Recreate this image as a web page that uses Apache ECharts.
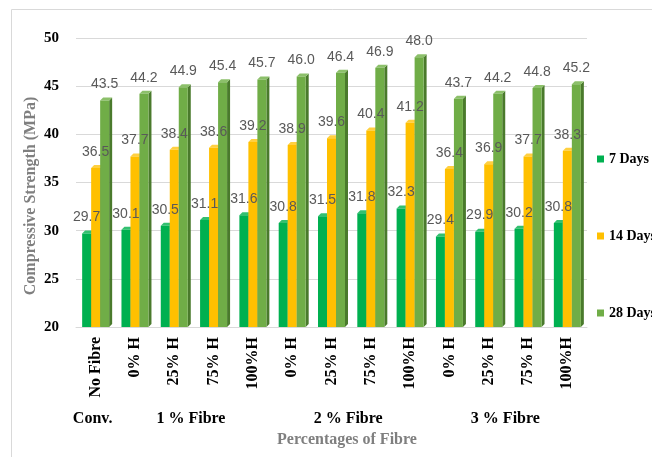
<!DOCTYPE html>
<html><head><meta charset="utf-8">
<script src="https://cdn.jsdelivr.net/npm/echarts@6/dist/echarts.min.js"></script>
<style>html,body{margin:0;padding:0;background:#fff}#c{width:652px;height:457px}</style>
</head><body><div id="c"></div>
<script>
const categories = ['No Fibre','0% H','25% H','75% H','100%H','0% H','25% H','75% H','100%H','0% H','25% H','75% H','100%H'];
const days7  = [29.7,30.1,30.5,31.1,31.6,30.8,31.5,31.8,32.3,29.4,29.9,30.2,30.8];
const days14 = [36.5,37.7,38.4,38.6,39.2,38.9,39.6,40.4,41.2,36.4,36.9,37.7,38.3];
const days28 = [43.5,44.2,44.9,45.4,45.7,46.0,46.4,46.9,48.0,43.7,44.2,44.8,45.2];
const seriesNames = ['7 Days','14 Days','28 Days'];
const groupLabels = ['Conv.','1 % Fibre','2 % Fibre','3 % Fibre'];
const groupSpans = [[0,0],[1,4],[5,8],[9,12]];

const colors = ['#00B050','#FFC000','#70AD47'];
const sideColors = ['#00803a','#bf9000','#4a7a2c'];
const topColors = ['#33c070','#ffd040','#8cc06a'];
const BW = 9, D = 3;
const serif = 'Liberation Serif';
const all = [days7, days14, days28];

const chart = echarts.init(document.getElementById('c'), null, {renderer:'canvas'});

function depthSeries(s){
  return {
    type:'custom', name:'depth'+s, z:1, silent:true,
    data: all[s].map((v,i)=>[i,v]),
    encode:{x:0,y:1},
    renderItem:function(params, api){
      const ci = api.value(0), v = api.value(1);
      const p = api.coord([ci, v]);
      const p0 = api.coord([ci, 20]);
      const x = p[0] - 1.5*BW + s*BW;
      return {type:'group', children:[
        {type:'polygon', shape:{points:[[x+BW,p[1]],[x+BW+D,p[1]-D],[x+BW+D,p0[1]-D],[x+BW,p0[1]]]}, style:{fill:sideColors[s]}},
        {type:'polygon', shape:{points:[[x,p[1]],[x+D,p[1]-D],[x+BW+D,p[1]-D],[x+BW,p[1]]]}, style:{fill:topColors[s]}}
      ]};
    }
  };
}

const barSeries = all.map((d,s)=>({
  type:'bar', name:seriesNames[s], data:d, barWidth:BW, barGap:'0%', z:2,
  itemStyle:{color:colors[s]},
  label:{show:true, position:'top', distance:9, color:'#595959', fontSize:14, fontFamily:'Liberation Sans',
    formatter:(p)=>p.value.toFixed(1)}
}));

chart.setOption({
  animation:false,
  grid:{left:76, top:38, width:511, height:289, containLabel:false},
  legend:{
    data:seriesNames, orient:'vertical', left:597, top:152, padding:0, itemWidth:7, itemHeight:7, itemGap:63, icon:'rect',
    textStyle:{fontFamily:serif, fontWeight:'bold', fontSize:14, color:'#000'}
  },
  xAxis:{
    type:'category', data:categories,
    axisLine:{lineStyle:{color:'#d9d9d9'}}, axisTick:{show:false},
    axisLabel:{rotate:90, interval:0, margin:10, fontFamily:serif, fontWeight:'bold', fontSize:16, color:'#000'}
  },
  yAxis:{
    type:'value', min:20, max:50, interval:5,
    axisLine:{show:false}, axisTick:{show:false},
    splitLine:{lineStyle:{color:'#d9d9d9'}},
    axisLabel:{margin:17, fontFamily:serif, fontWeight:'bold', fontSize:15, color:'#000'}
  },
  series:[depthSeries(0),depthSeries(1),depthSeries(2)].concat(barSeries)
});

const gfx = [
  {type:'rect', shape:{x:11.5,y:9.5,width:800,height:600}, style:{fill:'none', stroke:'#d9d9d9', lineWidth:1}, silent:true},
  {type:'text', x:31, y:196, rotation:Math.PI/2, style:{text:'Compressive Strength (MPa)', fontFamily:serif, fontWeight:'bold', fontSize:16, fill:'#7f7f7f', align:'center', verticalAlign:'middle'}},
  {type:'text', x:347, y:440, style:{text:'Percentages of Fibre', fontFamily:serif, fontWeight:'bold', fontSize:16, fill:'#7f7f7f', align:'center', verticalAlign:'middle'}}
];
groupSpans.forEach((sp,k)=>{
  const a = chart.convertToPixel({xAxisIndex:0}, sp[0]);
  const b = chart.convertToPixel({xAxisIndex:0}, sp[1]);
  gfx.push({type:'text', x:(a+b)/2 - 3, y:419, style:{text:groupLabels[k], fontFamily:serif, fontWeight:'bold', fontSize:16, fill:'#000', align:'center', verticalAlign:'middle'}});
});
chart.setOption({graphic:gfx});
</script>
</body></html>
